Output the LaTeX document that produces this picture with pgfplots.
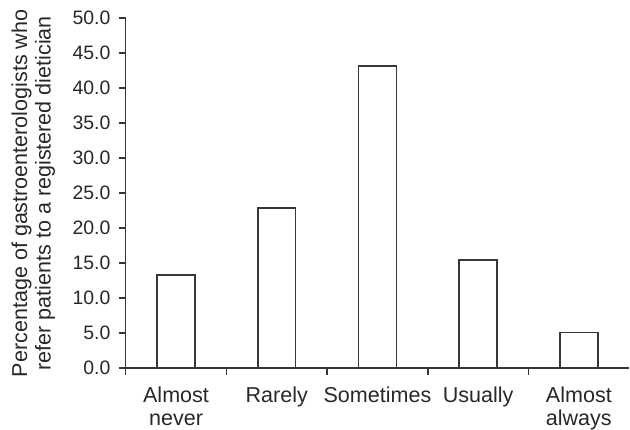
\documentclass[border=0pt]{standalone}
\usepackage{pgfplots}
\pgfplotsset{compat=1.18}
\usepackage{fontspec}
\setmainfont{Liberation Sans}
\definecolor{ink}{RGB}{55,55,55}
\definecolor{txt}{RGB}{40,40,40}
\begin{document}
\fontsize{9.75pt}{11.5pt}\selectfont
\begin{tikzpicture}
\begin{axis}[
  scale only axis,
  width=252.5pt, height=175.5pt,
  xmin=0, xmax=5, ymin=0, ymax=50,
  axis lines=left,
  axis line style={ink, line width=0.8pt, -},
  every tick/.style={ink, line width=0.8pt},
  tick align=outside,
  major tick length=3.5pt,
  ytick={0,5,...,50},
  yticklabel style={/pgf/number format/.cd, fixed, fixed zerofill, precision=1, /tikz/.cd, txt, xshift=-0.7pt, inner ysep=5.7pt},
  /pgf/number format/assume math mode=true,
  xtick={0.5,1.5,2.5,3.5,4.5},
  xticklabels={Almost\\never, Rarely, Sometimes, Usually, Almost\\always},
  xticklabel style={align=center, txt, anchor=north, inner xsep=0pt, inner ysep=0pt, font=\fontsize{10.8pt}{11.4pt}\selectfont, yshift=-5.6pt},
  x tick style={draw=none},
  extra x ticks={0,1,2,3,4},
  extra x tick labels={},
  extra x tick style={x tick style={draw=ink, line width=0.8pt}, major tick length=3.5pt},
  ylabel={Percentage of gastroenterologists who\\refer patients to a registered dietician},
  ylabel style={align=center, txt, font=\fontsize{10.8pt}{11.7pt}\selectfont, at={([xshift=-29.45pt]axis description cs:0,0.5)}, anchor=south, inner xsep=0pt, inner ysep=5.8pt},
  clip=false,
]
\addplot[ybar, bar width=19pt, fill=white, draw=ink, line width=0.8pt] coordinates {
  (0.5,13.3) (1.5,22.9) (2.5,43.2) (3.5,15.5) (4.5,5.1)
};
\end{axis}
\end{tikzpicture}
\end{document}
